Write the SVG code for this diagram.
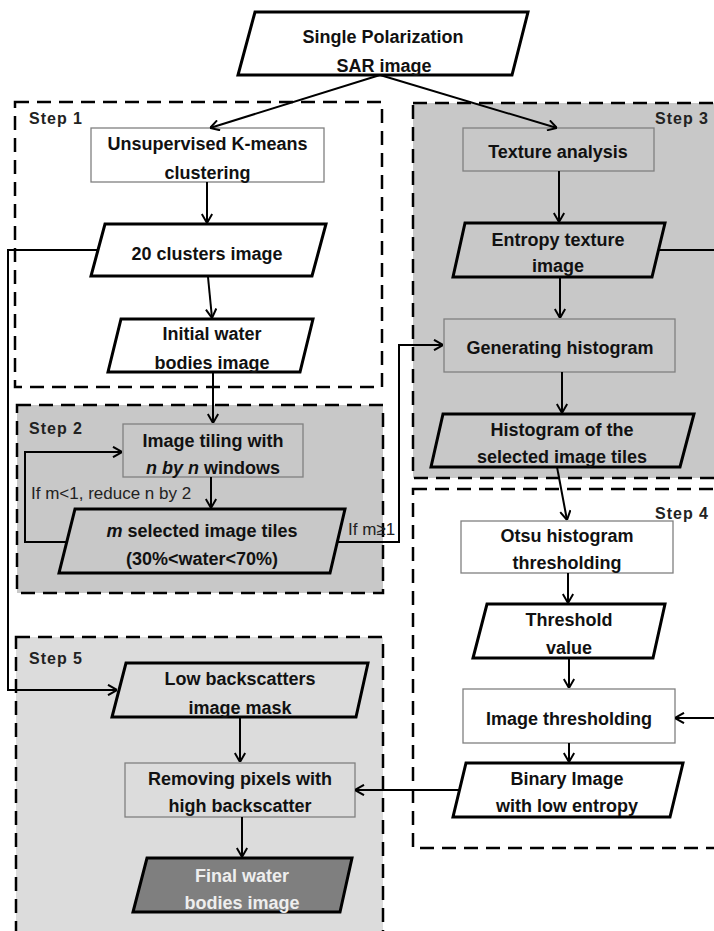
<svg xmlns="http://www.w3.org/2000/svg" width="714" height="931" viewBox="0 0 714 931">
<defs>
<style>
.step{stroke:#000;stroke-width:2.5;stroke-dasharray:14 8}
.g{fill:#c8c8c8}
.lg{fill:#dcdcdc}
.w{fill:#fff}
.box{stroke:#808080;stroke-width:1.3}
.para{stroke:#000;stroke-width:3;stroke-linejoin:miter}
.t{font-family:"Liberation Sans",Arial,sans-serif;font-weight:bold;font-size:18px;fill:#111;text-anchor:middle}
.lbl{font-family:"Liberation Sans",Arial,sans-serif;font-weight:bold;font-size:16px;letter-spacing:1px;fill:#222}
.cond{font-family:"Liberation Sans",Arial,sans-serif;font-size:17px;fill:#222}
.c{fill:none;stroke:#000;stroke-width:2}
</style>
<marker id="ah" viewBox="0 0 10 12" refX="10" refY="6" markerWidth="10" markerHeight="12" markerUnits="userSpaceOnUse" orient="auto">
<path d="M1,0.8 L10,6 L1,11.2" fill="none" stroke="#000" stroke-width="2"/>
</marker>
</defs>
<rect width="714" height="931" fill="#fff"/>

<!-- step containers -->
<g id="step1">
<rect class="step w" x="15" y="102" width="367" height="285"/>
<text class="lbl" x="29" y="124">Step 1</text>
</g>
<g id="step3">
<rect class="step g" x="413" y="103" width="304" height="375"/>
<text class="lbl" x="655" y="124">Step 3</text>
</g>
<g id="step2">
<rect class="step g" x="17" y="405" width="366" height="188"/>
<text class="lbl" x="29" y="434">Step 2</text>
</g>
<g id="step4">
<rect class="step w" x="413" y="489" width="304" height="359"/>
<text class="lbl" x="655" y="519">Step 4</text>
</g>
<g id="step5">
<rect class="step lg" x="16" y="637" width="367" height="310"/>
<text class="lbl" x="29" y="664">Step 5</text>
</g>

<!-- nodes -->
<g id="sar">
<polygon class="para w" points="255,12 528,12 512,75 238,75"/>
<text class="t" x="383" y="42.5">Single Polarization</text>
<text class="t" x="384" y="71.5">SAR image</text>
</g>
<g id="kmeans">
<rect class="box w" x="91" y="128" width="233" height="54"/>
<text class="t" x="207.5" y="149.5">Unsupervised K-means</text>
<text class="t" x="207.5" y="178.5">clustering</text>
</g>
<g id="clusters">
<polygon class="para w" points="105,224 326,224 312,276 91,276"/>
<text class="t" x="207" y="259.5">20 clusters image</text>
</g>
<g id="initial">
<polygon class="para w" points="121,319 313,319 300,372 108,372"/>
<text class="t" x="212" y="339.5">Initial water</text>
<text class="t" x="212" y="368.5">bodies image</text>
</g>
<g id="tiling">
<rect class="box g" x="123" y="424" width="180" height="53"/>
<text class="t" x="213" y="446.5">Image tiling with</text>
<text class="t" x="213" y="473.5"><tspan font-style="italic">n by n</tspan> windows</text>
</g>
<g id="tiles">
<polygon class="para g" points="75,509 345,509 330,573 59,573"/>
<text class="t" x="202" y="536.5"><tspan font-style="italic">m</tspan> selected image tiles</text>
<text class="t" x="202" y="564.5">(30%&lt;water&lt;70%)</text>
</g>
<g id="texture">
<rect class="box g" x="463" y="128" width="191" height="43"/>
<text class="t" x="558" y="157.5">Texture analysis</text>
</g>
<g id="entropy">
<polygon class="para g" points="465,223 665,223 652,277 453,277"/>
<text class="t" x="558" y="245.5">Entropy texture</text>
<text class="t" x="558" y="271.5">image</text>
</g>
<g id="genhist">
<rect class="box g" x="444" y="319" width="231" height="53"/>
<text class="t" x="560" y="353.5">Generating histogram</text>
</g>
<g id="hist">
<polygon class="para g" points="443,414 694,414 680,467 431,467"/>
<text class="t" x="562" y="435.5">Histogram of the</text>
<text class="t" x="562" y="462.5">selected image tiles</text>
</g>
<g id="otsu">
<rect class="box w" x="461" y="521" width="212" height="52"/>
<text class="t" x="567" y="541.5">Otsu histogram</text>
<text class="t" x="567" y="568.5">thresholding</text>
</g>
<g id="threshold">
<polygon class="para w" points="487,604 665,604 653,658 473,658"/>
<text class="t" x="569" y="625.5">Threshold</text>
<text class="t" x="569" y="653.5">value</text>
</g>
<g id="imgthr">
<rect class="box w" x="463" y="689" width="212" height="54"/>
<text class="t" x="569" y="724.5">Image thresholding</text>
</g>
<g id="binary">
<polygon class="para w" points="466,763 683,763 670,817 453,817"/>
<text class="t" x="567" y="784.5">Binary Image</text>
<text class="t" x="567" y="811.5">with low entropy</text>
</g>
<g id="lowback">
<polygon class="para lg" points="126,663 368,663 356,717 112,717"/>
<text class="t" x="240" y="684.5">Low backscatters</text>
<text class="t" x="240" y="713.5">image mask</text>
</g>
<g id="removing">
<rect class="box lg" x="125" y="763" width="230" height="54"/>
<text class="t" x="240" y="784.5">Removing pixels with</text>
<text class="t" x="240" y="811.5">high backscatter</text>
</g>
<g id="final">
<polygon class="para" fill="#7f7f7f" points="147,858 352,858 340,912 133,912"/>
<text class="t" x="242" y="881.5" style="fill:#eee">Final water</text>
<text class="t" x="242" y="908.5" style="fill:#eee">bodies image</text>
</g>

<!-- connectors -->
<g id="connectors">
<line class="c" x1="380" y1="75" x2="210" y2="128" marker-end="url(#ah)"/>
<line class="c" x1="380" y1="75" x2="557" y2="128" marker-end="url(#ah)"/>
<line class="c" x1="207" y1="182" x2="207" y2="223" marker-end="url(#ah)"/>
<line class="c" x1="208" y1="277" x2="212" y2="318" marker-end="url(#ah)"/>
<line class="c" x1="213" y1="372" x2="213" y2="423" marker-end="url(#ah)"/>
<line class="c" x1="211" y1="477" x2="211" y2="508" marker-end="url(#ah)"/>
<polyline class="c" points="67,542 25,542 25,452 122,452" marker-end="url(#ah)"/>
<polyline class="c" points="337,542 399,542 399,345 443,345" marker-end="url(#ah)"/>
<polyline class="c" points="98,250 8,250 8,690 117,690" marker-end="url(#ah)"/>
<line class="c" x1="559" y1="171" x2="559" y2="222" marker-end="url(#ah)"/>
<line class="c" x1="560" y1="277" x2="560" y2="318" marker-end="url(#ah)"/>
<polyline class="c" points="658,250 722,250 722,718 675,718" marker-end="url(#ah)"/>
<line class="c" x1="562" y1="372" x2="562" y2="413" marker-end="url(#ah)"/>
<line class="c" x1="557" y1="467" x2="567" y2="520" marker-end="url(#ah)"/>
<line class="c" x1="568" y1="573" x2="568" y2="603" marker-end="url(#ah)"/>
<line class="c" x1="569" y1="658" x2="569" y2="688" marker-end="url(#ah)"/>
<line class="c" x1="569" y1="743" x2="569" y2="762" marker-end="url(#ah)"/>
<line class="c" x1="460" y1="790" x2="355" y2="790" marker-end="url(#ah)"/>
<line class="c" x1="240" y1="717" x2="240" y2="762" marker-end="url(#ah)"/>
<line class="c" x1="242" y1="817" x2="242" y2="857" marker-end="url(#ah)"/>
<text class="cond" x="31" y="498.5">If m&lt;1, reduce n by 2</text>
<text class="cond" x="348" y="534.5">If m≥1</text>
</g>
</svg>
